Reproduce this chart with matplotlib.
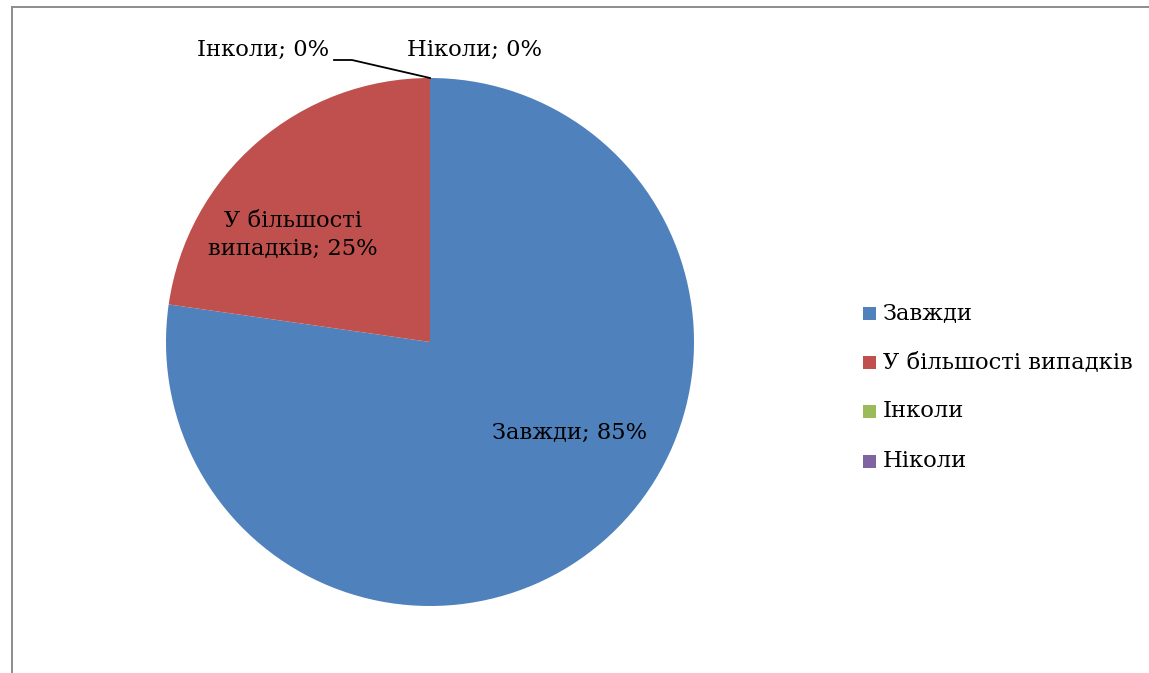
import matplotlib
matplotlib.use("Agg")
import matplotlib.pyplot as plt
from matplotlib.lines import Line2D
from matplotlib.patches import Rectangle

categories = ["Завжди", "У більшості випадків", "Інколи", "Ніколи"]
values = [85, 25, 0, 0]
label_texts = ["Завжди; 85%", "У більшості\nвипадків; 25%", "Інколи; 0%", "Ніколи; 0%"]
colors = ["#4F81BD", "#C0504D", "#9BBB59", "#8064A2"]

W, H = 1149, 673
plt.rcParams['font.family'] = ['DejaVu Serif']
fig = plt.figure(figsize=(W / 100, H / 100), dpi=100)
ax = fig.add_axes([0, 0, 1, 1])

cx, cy, r = 430, H - 342, 264
wedges, _ = ax.pie(values, colors=colors, startangle=90, counterclock=False,
                   center=(cx, cy), radius=r, frame=True,
                   wedgeprops=dict(linewidth=0))
ax.set_xlim(0, W)
ax.set_ylim(0, H)
ax.axis("off")

fs = 16.3
ax.text(570, H - 433, label_texts[0], ha="center", va="center", fontsize=fs)
ax.text(293, H - 235, label_texts[1], ha="center", va="center", fontsize=fs,
        linespacing=1.3)
ax.text(329, H - 50, label_texts[2], ha="right", va="center", fontsize=fs)
ax.text(407, H - 50, label_texts[3], ha="left", va="center", fontsize=fs)
ax.plot([334, 352, 430], [H - 60, H - 60, H - 78], color="black", lw=1.3)

# legend
ys = [313, 362, 411, 461]
for cat, col, y in zip(categories, colors, ys):
    ax.add_patch(Rectangle((863, H - y - 6.5), 13, 13, facecolor=col, edgecolor="none"))
    ax.text(883, H - y, cat, ha="left", va="center", fontsize=fs)

# chart border
ax.add_line(Line2D([11.5, 11.5], [0, H - 6.5], color="#8c8c8c", lw=1.4))
ax.add_line(Line2D([11.5, W], [H - 6.5, H - 6.5], color="#8c8c8c", lw=1.4))

fig.savefig("out.png", dpi=100)
